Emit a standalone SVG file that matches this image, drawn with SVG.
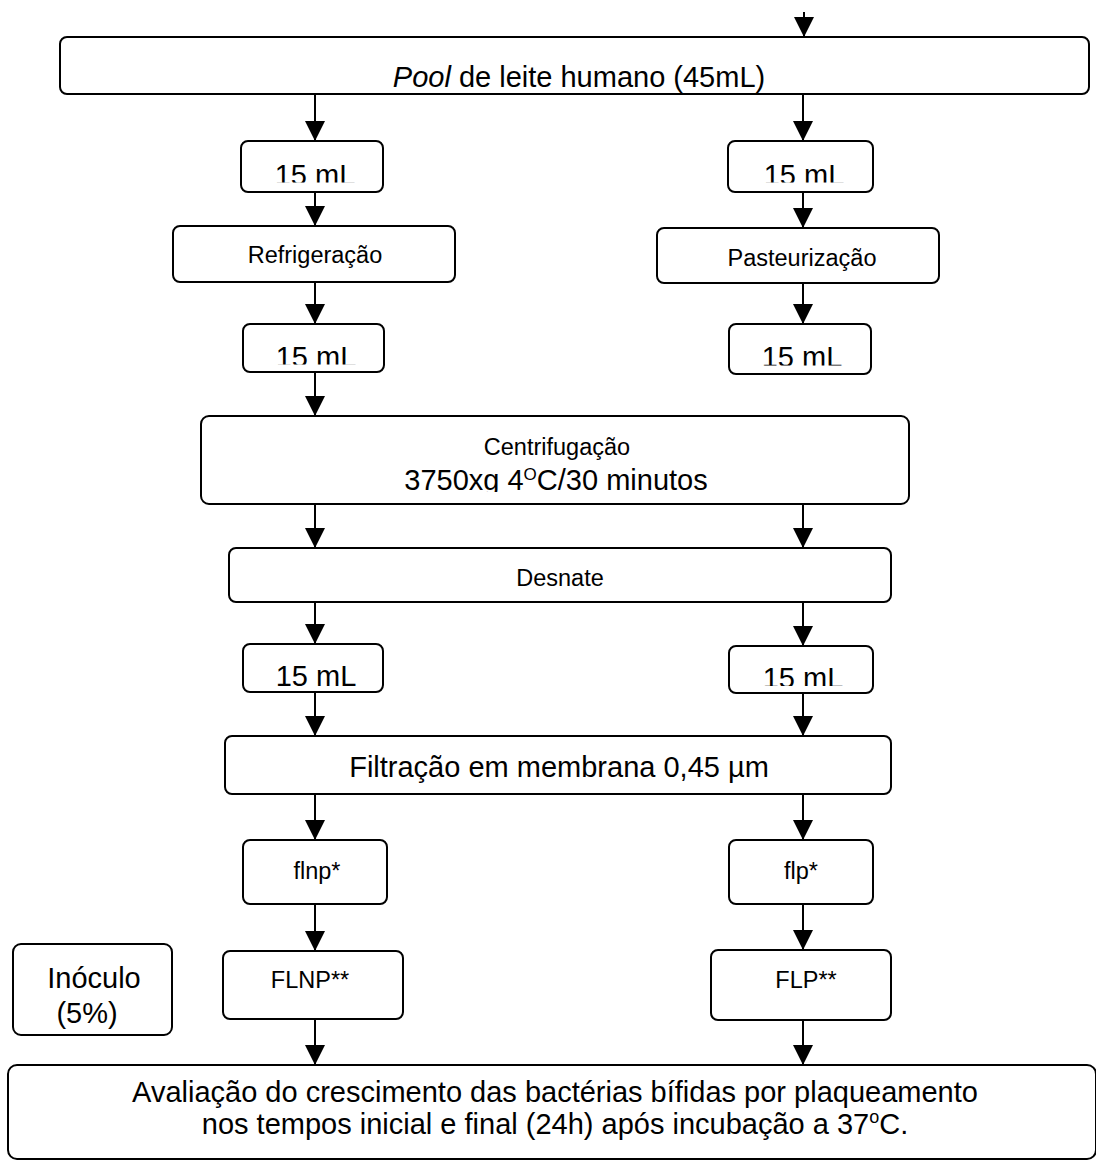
<svg xmlns="http://www.w3.org/2000/svg" width="1096" height="1162" viewBox="0 0 1096 1162">
<style>
.box{fill:#fff;stroke:#000;stroke-width:2}
.t{font-family:"Liberation Sans",Arial,Helvetica,sans-serif;fill:#000;text-anchor:middle}
.big{font-size:29px}
.small{font-size:23.5px}
.arr{stroke:#000;stroke-width:2;fill:none;marker-end:url(#ah)}
</style>
<defs>
<marker id="ah" markerWidth="20" markerHeight="20" refX="20" refY="10" orient="auto" markerUnits="userSpaceOnUse"><path d="M0,0 L20,10 L0,20 Z" fill="#000"/></marker>
<clipPath id="c1"><rect x="241" y="141" width="142" height="41.5"/></clipPath>
<clipPath id="c2"><rect x="728" y="141" width="145" height="41.5"/></clipPath>
<clipPath id="c3"><rect x="243" y="324" width="141" height="40.5"/></clipPath>
<clipPath id="c4"><rect x="729" y="324" width="142" height="41.5"/></clipPath>
<clipPath id="c5"><rect x="201" y="416" width="708" height="76"/></clipPath>
<clipPath id="c6"><rect x="729" y="646" width="144" height="40"/></clipPath>
</defs>

<g id="connectors">
<line class="arr" x1="804" y1="12" x2="804" y2="37"/>
<line class="arr" x1="315" y1="94" x2="315" y2="141"/>
<line class="arr" x1="803" y1="94" x2="803" y2="141"/>
<line class="arr" x1="315" y1="192" x2="315" y2="226"/>
<line class="arr" x1="803" y1="192" x2="803" y2="228"/>
<line class="arr" x1="315" y1="282" x2="315" y2="324"/>
<line class="arr" x1="803" y1="283" x2="803" y2="324"/>
<line class="arr" x1="315" y1="372" x2="315" y2="416"/>
<line class="arr" x1="315" y1="504" x2="315" y2="548"/>
<line class="arr" x1="803" y1="504" x2="803" y2="548"/>
<line class="arr" x1="315" y1="602" x2="315" y2="644"/>
<line class="arr" x1="803" y1="602" x2="803" y2="646"/>
<line class="arr" x1="315" y1="692" x2="315" y2="736"/>
<line class="arr" x1="803" y1="693" x2="803" y2="736"/>
<line class="arr" x1="315" y1="794" x2="315" y2="840"/>
<line class="arr" x1="803" y1="794" x2="803" y2="840"/>
<line class="arr" x1="315" y1="904" x2="315" y2="951"/>
<line class="arr" x1="803" y1="904" x2="803" y2="950"/>
<line class="arr" x1="315" y1="1019" x2="315" y2="1065"/>
<line class="arr" x1="803" y1="1020" x2="803" y2="1065"/>
</g>

<g id="pool">
<rect class="box" x="60" y="37" width="1029" height="57" rx="7"/>
<text class="t big" x="579" y="87"><tspan font-style="italic">Pool</tspan> de leite humano (45mL)</text>
</g>

<g id="ml-top-left">
<rect class="box" x="241" y="141" width="142" height="51" rx="7"/>
<text class="t big" x="315" y="185" clip-path="url(#c1)">15 mL</text>
</g>
<g id="ml-top-right">
<rect class="box" x="728" y="141" width="145" height="51" rx="7"/>
<text class="t big" x="804" y="185" clip-path="url(#c2)">15 mL</text>
</g>

<g id="refrigeracao">
<rect class="box" x="173" y="226" width="282" height="56" rx="7"/>
<text class="t small" x="315" y="263">Refrigeração</text>
</g>
<g id="pasteurizacao">
<rect class="box" x="657" y="228" width="282" height="55" rx="7"/>
<text class="t small" x="802" y="266">Pasteurização</text>
</g>

<g id="ml-mid-left">
<rect class="box" x="243" y="324" width="141" height="48" rx="7"/>
<text class="t big" x="316" y="367" clip-path="url(#c3)">15 mL</text>
</g>
<g id="ml-mid-right">
<rect class="box" x="729" y="324" width="142" height="50" rx="7"/>
<text class="t big" x="802" y="367" clip-path="url(#c4)">15 mL</text>
</g>

<g id="centrifugacao">
<rect class="box" x="201" y="416" width="708" height="88" rx="8"/>
<text class="t small" x="557" y="455">Centrifugação</text>
<text class="t big" x="556" y="490" clip-path="url(#c5)">3750xg 4<tspan dy="-10" font-size="17">O</tspan><tspan dy="10">C/30 minutos</tspan></text>
</g>

<g id="desnate">
<rect class="box" x="229" y="548" width="662" height="54" rx="7"/>
<text class="t small" x="560" y="586">Desnate</text>
</g>

<g id="ml-low-left">
<rect class="box" x="243" y="644" width="140" height="48" rx="7"/>
<text class="t big" x="316" y="686">15 mL</text>
</g>
<g id="ml-low-right">
<rect class="box" x="729" y="646" width="144" height="47" rx="7"/>
<text class="t big" x="803" y="688" clip-path="url(#c6)">15 mL</text>
</g>

<g id="filtracao">
<rect class="box" x="225" y="736" width="666" height="58" rx="7"/>
<text class="t big" x="559" y="777">Filtração em membrana 0,45 µm</text>
</g>

<g id="flnp">
<rect class="box" x="243" y="840" width="144" height="64" rx="7"/>
<text class="t small" x="317" y="879">flnp*</text>
</g>
<g id="flp">
<rect class="box" x="729" y="840" width="144" height="64" rx="7"/>
<text class="t small" x="801" y="879">flp*</text>
</g>

<g id="inoculo">
<rect class="box" x="13" y="944" width="159" height="91" rx="8"/>
<text class="t big" x="94" y="988">Inóculo</text>
<text class="t big" x="87" y="1023">(5%)</text>
</g>

<g id="flnp2">
<rect class="box" x="223" y="951" width="180" height="68" rx="7"/>
<text class="t small" x="310" y="988">FLNP**</text>
</g>
<g id="flp2">
<rect class="box" x="711" y="950" width="180" height="70" rx="7"/>
<text class="t small" x="806" y="988">FLP**</text>
</g>

<g id="avaliacao">
<rect class="box" x="8" y="1065" width="1088" height="94" rx="9"/>
<text class="t big" x="555" y="1102">Avaliação do crescimento das bactérias bífidas por plaqueamento</text>
<text class="t big" x="555" y="1134">nos tempos inicial e final (24h) após incubação a 37<tspan dy="-11" font-size="18">o</tspan><tspan dy="11">C.</tspan></text>
</g>
</svg>
